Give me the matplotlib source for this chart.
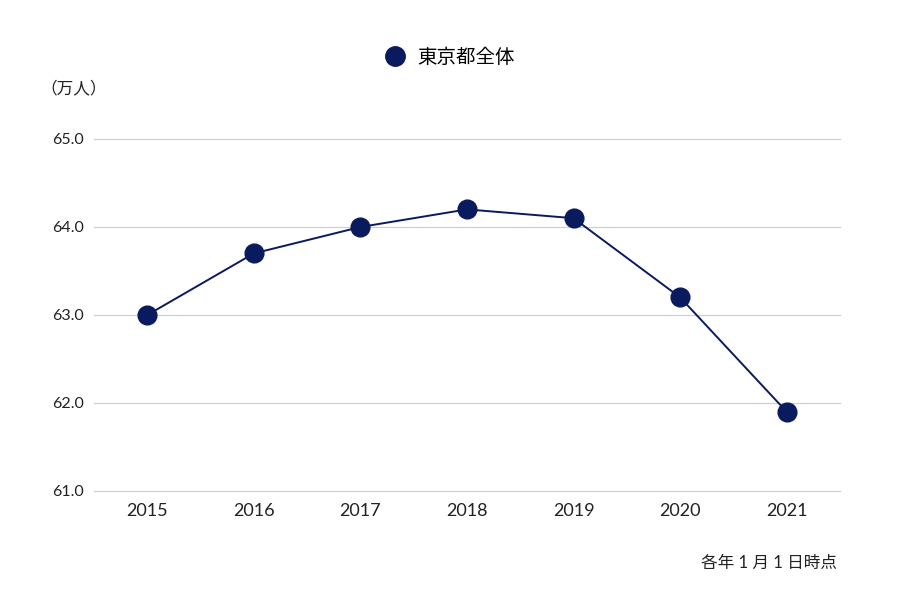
import matplotlib
matplotlib.use("Agg")
import matplotlib.pyplot as plt
from matplotlib.lines import Line2D

plt.rcParams['font.family'] = ['Lato', 'Noto Sans CJK JP', 'DejaVu Sans']

years = ["2015", "2016", "2017", "2018", "2019", "2020", "2021"]
population = [63.0, 63.7, 64.0, 64.2, 64.1, 63.2, 61.9]
series_name = "東京都全体"
y_ticks = [61.0, 62.0, 63.0, 64.0, 65.0]

navy = "#0a1a5e"

fig = plt.figure(figsize=(9, 6), dpi=100)
ax = fig.add_axes([94 / 900, 1 - 491 / 600, (840 - 94) / 900, (491 - 139) / 600])

x = list(range(len(years)))
ax.plot(x, population, color=navy, linewidth=1.4, marker="o",
        markersize=13.5, markerfacecolor=navy, markeredgecolor=navy, zorder=3)

ax.set_xlim(-0.5, len(years) - 0.5)
ax.set_ylim(61.0, 65.0)
ax.set_xticks(x)
ax.set_xticklabels(years, fontsize=13, color="#222222")
ax.set_yticks(y_ticks)
ax.set_yticklabels([f"{v:.1f}" for v in y_ticks], fontsize=11.5, color="#222222")
ax.tick_params(axis="both", length=0)
ax.tick_params(axis="x", pad=9)
ax.tick_params(axis="y", pad=7)
# draw the grid ourselves so the 61.0 line is not clipped at the axes edge
for v in y_ticks:
    ax.axhline(v, color="#d0d0d0", linewidth=0.9, zorder=0, clip_on=False)
for s in ax.spines.values():
    s.set_visible(False)

fig.text(40 / 900, 1 - 88 / 600, "（万人）", fontsize=12, color="#222222",
         ha="left", va="center")
fig.text(837 / 900, 1 - 563 / 600, "各年 1 月 1 日時点", fontsize=12, color="#222222",
         ha="right", va="center")

handle = Line2D([], [], color=navy, marker="o", linestyle="none", markersize=14)
fig.legend([handle], [series_name], loc="center", bbox_to_anchor=(450 / 900, 1 - 57 / 600),
           frameon=False, fontsize=14, handletextpad=0.6, handlelength=1.0)

fig.savefig("out.png", dpi=100)
